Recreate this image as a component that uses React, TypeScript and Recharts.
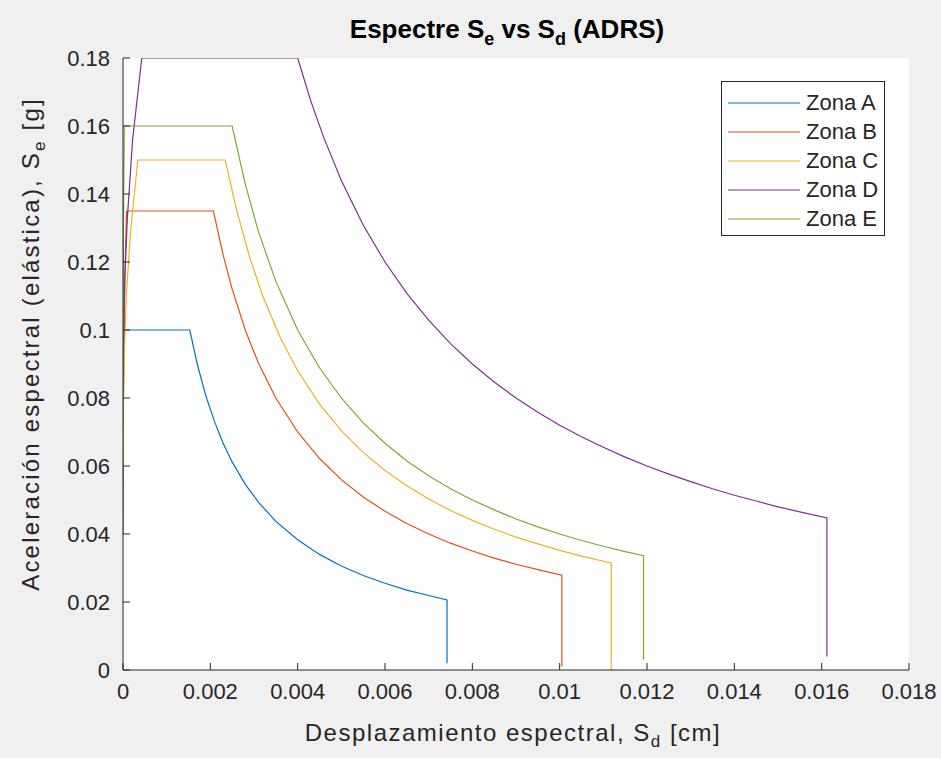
import React from 'react';
import { LineChart, Line, XAxis, YAxis, CartesianGrid, Legend, Customized } from 'recharts';

const xTicks = [0, 0.002, 0.004, 0.006, 0.008, 0.01, 0.012, 0.014, 0.016, 0.018];
const xTickLabels = ['0', '0.002', '0.004', '0.006', '0.008', '0.01', '0.012', '0.014', '0.016', '0.018'];
const yTicks = [0, 0.02, 0.04, 0.06, 0.08, 0.1, 0.12, 0.14, 0.16, 0.18];
const yTickLabels = ['0', '0.02', '0.04', '0.06', '0.08', '0.1', '0.12', '0.14', '0.16', '0.18'];

const seriesNames = ['Zona A', 'Zona B', 'Zona C', 'Zona D', 'Zona E'];
const seriesColors = ['#0072BD', '#D95319', '#EDB120', '#7E2F8E', '#77AC30'];

// Sd [cm] / Se [g] pairs
const zonaA = [
  { x: 0, y: 0.04 }, { x: 0.000005, y: 0.07 }, { x: 0.00001, y: 0.085 }, { x: 0.00002, y: 0.1 },
  { x: 0.00153, y: 0.1 }, { x: 0.0017, y: 0.09 }, { x: 0.0019, y: 0.0805 }, { x: 0.0021, y: 0.0729 },
  { x: 0.0023, y: 0.0665 }, { x: 0.0025, y: 0.0612 }, { x: 0.0028, y: 0.0546 }, { x: 0.0031, y: 0.0494 },
  { x: 0.0035, y: 0.0437 }, { x: 0.004, y: 0.0383 }, { x: 0.0045, y: 0.034 }, { x: 0.005, y: 0.0306 },
  { x: 0.0055, y: 0.0278 }, { x: 0.006, y: 0.0255 }, { x: 0.0065, y: 0.0235 }, { x: 0.007, y: 0.0219 },
  { x: 0.00742, y: 0.0206 }, { x: 0.00742, y: 0.002 },
];

const zonaB = [
  { x: 0, y: 0.054 }, { x: 0.00001, y: 0.08 }, { x: 0.00003, y: 0.105 }, { x: 0.00005, y: 0.12 },
  { x: 0.00008, y: 0.135 }, { x: 0.00207, y: 0.135 }, { x: 0.0023, y: 0.1217 }, { x: 0.0025, y: 0.112 },
  { x: 0.0028, y: 0.1 }, { x: 0.0031, y: 0.0903 }, { x: 0.0035, y: 0.08 }, { x: 0.004, y: 0.07 },
  { x: 0.0045, y: 0.0622 }, { x: 0.005, y: 0.056 }, { x: 0.0055, y: 0.0509 }, { x: 0.006, y: 0.0467 },
  { x: 0.0065, y: 0.0431 }, { x: 0.007, y: 0.04 }, { x: 0.0075, y: 0.0373 }, { x: 0.008, y: 0.035 },
  { x: 0.0085, y: 0.0329 }, { x: 0.009, y: 0.0311 }, { x: 0.0095, y: 0.0295 }, { x: 0.01005, y: 0.0279 },
  { x: 0.01005, y: 0.001 },
];

const zonaC = [
  { x: 0, y: 0.06 }, { x: 0.000004, y: 0.074 }, { x: 0.00003, y: 0.094 }, { x: 0.00008, y: 0.111 },
  { x: 0.00018, y: 0.13 }, { x: 0.00034, y: 0.15 }, { x: 0.00234, y: 0.15 }, { x: 0.0026, y: 0.1354 },
  { x: 0.0029, y: 0.1214 }, { x: 0.0032, y: 0.11 }, { x: 0.0036, y: 0.0978 }, { x: 0.004, y: 0.088 },
  { x: 0.0045, y: 0.0782 }, { x: 0.005, y: 0.0704 }, { x: 0.0055, y: 0.064 }, { x: 0.006, y: 0.0587 },
  { x: 0.0065, y: 0.0542 }, { x: 0.007, y: 0.0503 }, { x: 0.0075, y: 0.0469 }, { x: 0.008, y: 0.044 },
  { x: 0.0085, y: 0.0414 }, { x: 0.009, y: 0.0391 }, { x: 0.0095, y: 0.0371 }, { x: 0.01, y: 0.0352 },
  { x: 0.0105, y: 0.0335 }, { x: 0.01118, y: 0.0315 }, { x: 0.01118, y: 0 },
];

const zonaD = [
  { x: 0, y: 0.072 }, { x: 0.000004, y: 0.088 }, { x: 0.00004, y: 0.115 }, { x: 0.0001, y: 0.133 },
  { x: 0.00022, y: 0.156 }, { x: 0.00043, y: 0.18 }, { x: 0.004, y: 0.18 }, { x: 0.0043, y: 0.1674 },
  { x: 0.0046, y: 0.1565 }, { x: 0.005, y: 0.144 }, { x: 0.0055, y: 0.1309 }, { x: 0.006, y: 0.12 },
  { x: 0.0065, y: 0.1108 }, { x: 0.007, y: 0.1029 }, { x: 0.0075, y: 0.096 }, { x: 0.008, y: 0.09 },
  { x: 0.0085, y: 0.0847 }, { x: 0.009, y: 0.08 }, { x: 0.0095, y: 0.0758 }, { x: 0.01, y: 0.072 },
  { x: 0.0105, y: 0.0686 }, { x: 0.011, y: 0.0655 }, { x: 0.0115, y: 0.0626 }, { x: 0.012, y: 0.06 },
  { x: 0.0125, y: 0.0576 }, { x: 0.013, y: 0.0554 }, { x: 0.0135, y: 0.0533 }, { x: 0.014, y: 0.0514 },
  { x: 0.0145, y: 0.0497 }, { x: 0.015, y: 0.048 }, { x: 0.0155, y: 0.0465 }, { x: 0.01612, y: 0.0447 },
  { x: 0.01612, y: 0.004 },
];

const zonaE = [
  { x: 0, y: 0.064 }, { x: 0.000003, y: 0.1 }, { x: 0.00001, y: 0.13 }, { x: 0.00003, y: 0.16 },
  { x: 0.0025, y: 0.16 }, { x: 0.0028, y: 0.1429 }, { x: 0.0031, y: 0.129 }, { x: 0.0035, y: 0.1143 },
  { x: 0.004, y: 0.1 }, { x: 0.0045, y: 0.0889 }, { x: 0.005, y: 0.08 }, { x: 0.0055, y: 0.0727 },
  { x: 0.006, y: 0.0667 }, { x: 0.0065, y: 0.0615 }, { x: 0.007, y: 0.0571 }, { x: 0.0075, y: 0.0533 },
  { x: 0.008, y: 0.05 }, { x: 0.0085, y: 0.0471 }, { x: 0.009, y: 0.0444 }, { x: 0.0095, y: 0.0421 },
  { x: 0.01, y: 0.04 }, { x: 0.0105, y: 0.0381 }, { x: 0.011, y: 0.0364 }, { x: 0.0115, y: 0.0348 },
  { x: 0.01192, y: 0.0336 }, { x: 0.01192, y: 0.003 },
];

const seriesData = [zonaA, zonaB, zonaC, zonaD, zonaE];

const W = 941;
const H = 758;
const FONT = '"Liberation Sans", Arial, Helvetica, sans-serif';
const TXT = '#262626';

const fmtX = (v: number) => {
  const i = xTicks.findIndex((t) => Math.abs(t - v) < 1e-9);
  return i >= 0 ? xTickLabels[i] : String(v);
};
const fmtY = (v: number) => {
  const i = yTicks.findIndex((t) => Math.abs(t - v) < 1e-9);
  return i >= 0 ? yTickLabels[i] : String(v);
};

const renderLegend = (props: any) => {
  const payload = props.payload || [];
  return (
    <div
      style={{
        border: '1px solid #262626',
        background: '#ffffff',
        width: 164,
        height: 155,
        boxSizing: 'border-box',
        paddingTop: 6,
        fontFamily: FONT,
      }}
    >
      {payload.map((p: any, i: number) => (
        <div key={i} style={{ display: 'flex', alignItems: 'center', height: 29, marginLeft: 6 }}>
          <svg width={72} height={10} style={{ display: 'block' }}>
            <line x1={0} x2={72} y1={5} y2={5} stroke={p.color} strokeWidth={1.2} />
          </svg>
          <span style={{ fontSize: 22, color: TXT, marginLeft: 6, lineHeight: '29px' }}>{p.value}</span>
        </div>
      ))}
    </div>
  );
};

const Titles = (props: any) => {
  const off = props.offset || { left: 123, top: 58, width: 786, height: 612 };
  const cx = off.left + off.width / 2;
  const cy = off.top + off.height / 2;
  const ly = cy - 20;
  return (
    <g fontFamily={FONT} fill={TXT}>
      <text x={cx - 9} y={38} textAnchor="middle" fontSize={26} fontWeight="bold" fill="#000">
        Espectre S<tspan fontSize={18} dy={7}>e</tspan>
        <tspan dy={-7}> vs S</tspan>
        <tspan fontSize={18} dy={7}>d</tspan>
        <tspan dy={-7}> (ADRS)</tspan>
      </text>
      <text x={cx - 3} y={741} textAnchor="middle" fontSize={24} letterSpacing={1.5}>
        Desplazamiento espectral, S<tspan fontSize={17} dy={6}>d</tspan>
        <tspan dy={-6}> [cm]</tspan>
      </text>
      <text x={39} y={ly} textAnchor="middle" fontSize={24} letterSpacing={2.2} transform={`rotate(-90, 39, ${ly})`}>
        Aceleración espectral (elástica), S<tspan fontSize={17} dy={6}>e</tspan>
        <tspan dy={-6}> [g]</tspan>
      </text>
    </g>
  );
};

export default function App() {
  return (
    <div style={{ width: W, height: H, background: '#f0f0f0', position: 'relative' }}>
      <style>{'body{margin:0;}'}</style>
      <LineChart width={W} height={H} margin={{ top: 58, right: 32, bottom: 28, left: 0 }}>
        <CartesianGrid fill="#ffffff" stroke="transparent" horizontal={false} vertical={false} />
        <XAxis
          type="number"
          dataKey="x"
          domain={[0, 0.018]}
          ticks={xTicks}
          tickFormatter={fmtX}
          allowDataOverflow
          height={60}
          tickSize={-7}
          tickMargin={20}
          stroke={TXT}
          tick={{ fill: TXT, fontSize: 22, fontFamily: FONT }}
          tickLine={{ stroke: TXT }}
          axisLine={{ stroke: TXT }}
        />
        <YAxis
          type="number"
          dataKey="y"
          domain={[0, 0.18]}
          ticks={yTicks}
          tickFormatter={fmtY}
          allowDataOverflow
          width={123}
          tickSize={-7}
          tickMargin={20}
          stroke={TXT}
          tick={{ fill: TXT, fontSize: 22, fontFamily: FONT }}
          tickLine={{ stroke: TXT }}
          axisLine={{ stroke: TXT }}
        />
        {seriesData.map((d, i) => (
          <Line
            key={seriesNames[i]}
            data={d}
            dataKey="y"
            name={seriesNames[i]}
            type="linear"
            stroke={seriesColors[i]}
            strokeWidth={1.2}
            dot={false}
            activeDot={false}
            isAnimationActive={false}
          />
        ))}
        <Legend
          layout="vertical"
          align="center"
          verticalAlign="middle"
          content={renderLegend}
          wrapperStyle={{ position: 'absolute', left: 721, top: 81, width: 164, height: 155 }}
        />
        <Customized component={Titles} />
      </LineChart>
    </div>
  );
}
